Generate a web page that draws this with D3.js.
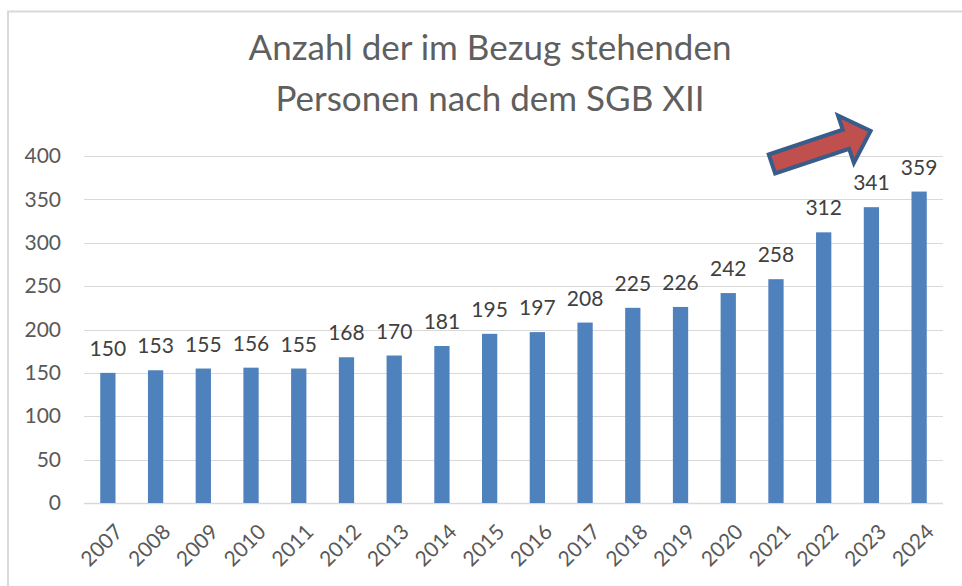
<!DOCTYPE html>
<html>
<head>
<meta charset="utf-8">
<script src="https://cdn.jsdelivr.net/npm/d3@7"></script>
<style>
	body { margin: 0; background: #fff; }
	svg { display: block; font-family: Lato, 'Open Sans', sans-serif; }
</style>
</head>
<body>
<div id="chart"></div>
<script>
const years = ['2007', '2008', '2009', '2010', '2011', '2012', '2013', '2014', '2015', '2016', '2017', '2018', '2019', '2020', '2021', '2022', '2023', '2024'];
const persons = [150, 153, 155, 156, 155, 168, 170, 181, 195, 197, 208, 225, 226, 242, 258, 312, 341, 359];
const yTicks = [0, 50, 100, 150, 200, 250, 300, 350, 400];
const titleLines = ['Anzahl der im Bezug stehenden', 'Personen nach dem SGB XII'];

const width = 962;
const height = 586;
const margin = { top: 156, right: 19, bottom: 83, left: 84 };

const data = years.map((y, i) => ({ year: y, value: persons[i] }));

const svg = d3
	.select('#chart')
	.append('svg')
	.attr('width', width)
	.attr('height', height);

// chart frame
svg
	.append('rect')
	.attr('x', 8)
	.attr('y', 11.5)
	.attr('width', width)
	.attr('height', height)
	.style('fill', 'none')
	.style('stroke', '#d9d9d9')
	.style('stroke-width', 2);

const xScale = d3.scaleBand().domain(years).range([ margin.left, width - margin.right ]).paddingInner(0.68).paddingOuter(0.34);
const yScale = d3.scaleLinear().domain([ 0, 400 ]).range([ height - margin.bottom, margin.top ]);

// title
svg
	.append('g')
	.selectAll('text')
	.data(titleLines)
	.join('text')
	.attr('x', 490)
	.attr('y', (d, i) => 60 + i * 51)
	.attr('text-anchor', 'middle')
	.style('font-size', '35px')
	.style('fill', '#5f5f5f')
	.text((d) => d);

// gridlines
svg
	.append('g')
	.selectAll('line')
	.data(yTicks)
	.join('line')
	.attr('x1', margin.left)
	.attr('x2', width - margin.right)
	.attr('y1', (d) => Math.round(yScale(d)) + 0.5)
	.attr('y2', (d) => Math.round(yScale(d)) + 0.5)
	.style('stroke', '#d9d9d9')
	.style('stroke-width', (d) => (d === 0 ? 1.5 : 1));

// y axis labels
const yAxis = d3.axisLeft(yScale).tickValues(yTicks).tickSize(0).tickPadding(23);
svg
	.append('g')
	.attr('transform', `translate(${margin.left}, 0)`)
	.call(yAxis)
	.call((g) => g.select('.domain').remove())
	.selectAll('text')
	.style('font-family', 'Lato, sans-serif')
	.style('font-size', '21px')
	.style('fill', '#595959');

// bars
svg
	.append('g')
	.selectAll('rect')
	.data(data)
	.join('rect')
	.attr('x', (d) => xScale(d.year))
	.attr('width', xScale.bandwidth())
	.attr('y', (d) => yScale(d.value))
	.attr('height', (d) => yScale(0) - yScale(d.value))
	.style('fill', '#4f81bd');

// value labels
svg
	.append('g')
	.selectAll('text')
	.data(data)
	.join('text')
	.attr('x', (d) => xScale(d.year) + xScale.bandwidth() / 2)
	.attr('y', (d) => yScale(d.value) - 17)
	.attr('text-anchor', 'middle')
	.style('font-size', '21px')
	.style('fill', '#404040')
	.text((d) => d.value);

// x axis labels, rotated
svg
	.append('g')
	.selectAll('text')
	.data(years)
	.join('text')
	.attr('transform', (d) => `translate(${xScale(d) + xScale.bandwidth() / 2 + 11}, ${yScale(0) + 25}) rotate(-45)`)
	.attr('text-anchor', 'end')
	.attr('dy', '0.35em')
	.style('font-size', '21px')
	.style('fill', '#595959')
	.text((d) => d);

// trend arrow over the last bars
const tailX = xScale('2021') + xScale.bandwidth() / 2 - 4;
const tailY = yScale(400) + 8;
const arrowLen = 104;
const shaftW = 20;
const headW = 50;
const headLen = 26;
const arrowPts = [
	[ 0, -shaftW / 2 ],
	[ arrowLen - headLen, -shaftW / 2 ],
	[ arrowLen - headLen, -headW / 2 ],
	[ arrowLen, 0 ],
	[ arrowLen - headLen, headW / 2 ],
	[ arrowLen - headLen, shaftW / 2 ],
	[ 0, shaftW / 2 ]
];
svg
	.append('path')
	.attr('transform', `translate(${tailX}, ${tailY}) rotate(-18.5)`)
	.attr('d', d3.line()(arrowPts) + 'Z')
	.style('fill', '#c0504d')
	.style('stroke', '#385d8a')
	.style('stroke-width', 4)
	.style('stroke-linejoin', 'miter');
</script>
</body>
</html>
